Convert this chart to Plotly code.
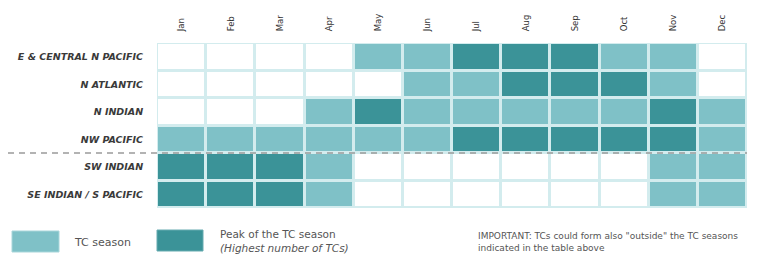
import plotly.graph_objects as go

months = ["Jan", "Feb", "Mar", "Apr", "May", "Jun", "Jul", "Aug", "Sep", "Oct", "Nov", "Dec"]
basins = ["E & CENTRAL N PACIFIC", "N ATLANTIC", "N INDIAN", "NW PACIFIC", "SW INDIAN", "SE INDIAN / S PACIFIC"]
# 0 = no season, 1 = TC season, 2 = peak of the TC season
e_central_n_pacific = [0, 0, 0, 0, 1, 1, 2, 2, 2, 1, 1, 0]
n_atlantic = [0, 0, 0, 0, 0, 1, 1, 2, 2, 2, 1, 0]
n_indian = [0, 0, 0, 1, 2, 1, 1, 1, 1, 1, 2, 1]
nw_pacific = [1, 1, 1, 1, 1, 1, 2, 2, 2, 2, 2, 1]
sw_indian = [2, 2, 2, 1, 0, 0, 0, 0, 0, 0, 1, 1]
se_indian_s_pacific = [2, 2, 2, 1, 0, 0, 0, 0, 0, 0, 1, 1]

z = [e_central_n_pacific, n_atlantic, n_indian, nw_pacific, sw_indian, se_indian_s_pacific]

WHITE = "#ffffff"
LIGHT = "#7fc1c7"
DARK = "#3b9398"
GRID = "#d3ecee"

colorscale = [
    [0.0, WHITE], [0.3333, WHITE],
    [0.3333, LIGHT], [0.6667, LIGHT],
    [0.6667, DARK], [1.0, DARK],
]

fig = go.Figure(go.Heatmap(
    z=z,
    x=list(range(len(months))),
    y=list(range(len(basins))),
    zmin=-0.5, zmax=2.5,
    colorscale=colorscale,
    showscale=False,
    xgap=3, ygap=3,
    hoverinfo="skip",
))

# page has an 8px body margin; figure is sized to fill the rest
OFF = 8
W, H = 759 - OFF, 264 - OFF
L, R, T, B = 157 - OFF, 12, 43 - OFF, 56

fig.update_layout(
    width=W, height=H,
    margin=dict(l=L, r=R, t=T, b=B, autoexpand=False),
    paper_bgcolor="#ffffff",
    plot_bgcolor=GRID,
    font=dict(family="DejaVu Sans", color="#333333"),
    xaxis=dict(
        side="top", tickmode="array",
        tickvals=list(range(len(months))), ticktext=months,
        tickangle=-90, tickfont=dict(size=8.5, color="#333333"),
        showgrid=False, zeroline=False, ticks="outside", ticklen=9,
        tickcolor="rgba(0,0,0,0)",
        range=[-0.5, 11.5], fixedrange=True, automargin=False,
    ),
    yaxis=dict(
        tickmode="array",
        tickvals=list(range(len(basins))),
        ticktext=["<b><i>" + b + "</i></b>" for b in basins],
        tickfont=dict(size=9.5, color="#3a3a3a"),
        autorange=False, range=[5.5, -0.5],
        showgrid=False, zeroline=False, ticks="outside", ticklen=11,
        tickcolor="rgba(0,0,0,0)",
        fixedrange=True, automargin=False,
    ),
)

# helpers: page pixel -> paper coordinates
def px(x):
    return (x - OFF - L) / (W - L - R)

def py(y):
    return (H - B - (y - OFF)) / (H - T - B)

# dashed separator between northern and southern hemisphere basins
fig.add_shape(type="line", xref="paper", yref="y",
              x0=px(8), x1=1.0, y0=3.5, y1=3.5,
              line=dict(color="#9a9a9a", width=1.5, dash="6px,5px"))

fig.add_shape(type="rect", xref="paper", yref="paper",
              x0=px(12), x1=px(59), y0=py(252), y1=py(231),
              fillcolor=LIGHT, line=dict(color="#a9d6da", width=1))
fig.add_shape(type="rect", xref="paper", yref="paper",
              x0=px(157), x1=px(203), y0=py(251), y1=py(230),
              fillcolor=DARK, line=dict(color="#67abb0", width=1))

fig.add_annotation(xref="paper", yref="paper", x=px(72), y=py(242),
                   text="TC season", showarrow=False, xanchor="left", yanchor="middle",
                   font=dict(size=11, color="#555555"))
fig.add_annotation(xref="paper", yref="paper", x=px(218), y=py(241),
                   text="Peak of the TC season<br><i>(Highest number of TCs)</i>",
                   showarrow=False, xanchor="left", yanchor="middle", align="left",
                   font=dict(size=10.5, color="#555555"))
fig.add_annotation(xref="paper", yref="paper", x=px(476), y=py(242),
                   text="IMPORTANT: TCs could form also \"outside\" the TC seasons<br>indicated in the table above",
                   showarrow=False, xanchor="left", yanchor="middle", align="left",
                   font=dict(size=9, color="#555555"))

fig.write_html("out.html")
